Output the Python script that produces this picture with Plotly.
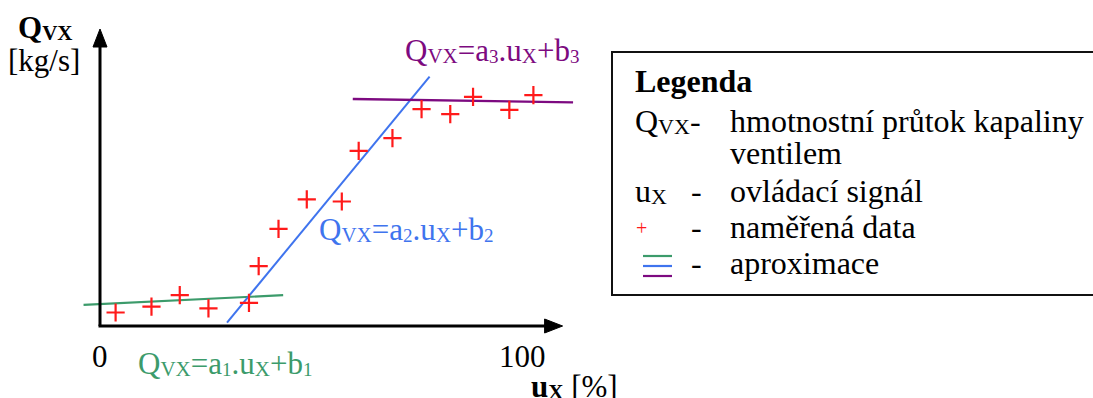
import plotly.graph_objects as go

# ---------------- data ----------------
u_measured = [3.7, 12.2, 18.9, 25.7, 35.3, 37.6, 42.3, 49.0, 57.3, 61.3, 69.3, 76.2, 83.0, 88.4, 97.0, 102.7]
q_measured = [3.2, 4.6, 7.3, 4.2, 5.5, 14.2, 23.0, 30.0, 29.5, 41.5, 44.5, 51.4, 50.2, 54.3, 51.2, 54.7]

fit1_u = [-3.9, 43.4]
fit1_q = [5.0, 7.3]
fit2_u = [30.1, 78.1]
fit2_q = [0.8, 59.1]
fit3_u = [59.9, 112.1]
fit3_q = [53.8, 53.0]

tick_values = [0, 100]
tick_labels = ["0", "100"]

# ---------------- styling ----------------
W, H = 1093, 398
FONT = "Liberation Serif"
GREEN = "#3c9b6b"
BLUE = "#3f74ee"
PURPLE = "#7d0a80"
RED = "#ff1a1a"
XR = [-100 / 4.22, (W - 100) / 4.22]
YR = [-(H - 326) / 4.22, 326 / 4.22]


def px(x):
    return x / W


def py(y):
    return 1 - y / H


def sub(s, size):
    return ('<span style="font-size:%dpx;baseline-shift:-2px">%s</span>' % (size, s))


def eq(i, size):
    return ("Q" + sub("VX", int(size * 0.68)) + "=a" + sub(str(i), int(size * 0.62)) + ".u"
            + sub("X", int(size * 0.68)) + "+b" + sub(str(i), int(size * 0.62)))


fig = go.Figure()

fig.add_trace(go.Scatter(x=fit1_u, y=fit1_q, mode="lines", line=dict(color=GREEN, width=2.2), hoverinfo="skip"))
fig.add_trace(go.Scatter(x=fit2_u, y=fit2_q, mode="lines", line=dict(color=BLUE, width=2), hoverinfo="skip"))
fig.add_trace(go.Scatter(x=fit3_u, y=fit3_q, mode="lines", line=dict(color=PURPLE, width=2.4), hoverinfo="skip"))
fig.add_trace(go.Scatter(x=u_measured, y=q_measured, mode="markers",
                         marker=dict(symbol="cross-thin", size=13, line=dict(color=RED, width=2.2), color=RED),
                         hoverinfo="skip"))

shapes = []
# axes
x_tip = (562.6 - 100) / 4.22
y_tip = (326 - 29) / 4.22
shapes.append(dict(type="line", xref="x", yref="y", x0=0, y0=0, x1=0, y1=y_tip - 3,
                   line=dict(color="black", width=3)))
shapes.append(dict(type="line", xref="x", yref="y", x0=-0.35, y0=0, x1=x_tip - 3, y1=0,
                   line=dict(color="black", width=3)))
shapes.append(dict(type="path", xref="x", yref="y", xsizemode="pixel", ysizemode="pixel",
                   xanchor=0, yanchor=y_tip, path="M -7,-18 L 7,-18 L 0,0 Z",
                   fillcolor="black", line=dict(color="black", width=1)))
shapes.append(dict(type="path", xref="x", yref="y", xsizemode="pixel", ysizemode="pixel",
                   xanchor=x_tip, yanchor=0, path="M -18,-7 L -18,7 L 0,0 Z",
                   fillcolor="black", line=dict(color="black", width=1)))
# legend box
shapes.append(dict(type="rect", xref="paper", yref="paper", x0=px(612), x1=px(1100), y0=py(295), y1=py(52),
                   line=dict(color="#111", width=2)))
for yy, c in [(256, GREEN), (266, BLUE), (276, PURPLE)]:
    shapes.append(dict(type="line", xref="paper", yref="paper", x0=px(643), x1=px(672), y0=py(yy), y1=py(yy),
                       line=dict(color=c, width=2.2)))

ann = []


def txt(x, y, text, size, color="black", xanchor="left", ref="paper"):
    d = dict(text=text, showarrow=False, font=dict(family=FONT, size=size, color=color),
             xanchor=xanchor, yanchor="middle", borderpad=0, borderwidth=0)
    if ref == "paper":
        d.update(xref="paper", yref="paper", x=px(x), y=py(y))
    else:
        d.update(xref="x", yref="y", x=x, y=y)
    ann.append(d)


S = 31
# axis titles
txt(18, 28, "<b>Q" + sub("VX", 21) + "</b>", S)
txt(8, 61, "[kg/s]", S)
txt(531, 386, "<b>u" + sub("X", 21) + "</b> [%]", S)
# tick labels
for v, lab in zip(tick_values, tick_labels):
    txt(v, (326 - 356) / 4.22, lab, S, xanchor="center", ref="data")
# equations
txt((405 - 100) / 4.22, (326 - 50) / 4.22, eq(3, S), S, PURPLE, ref="data")
txt((319 - 100) / 4.22, (326 - 229.5) / 4.22, eq(2, S), S, BLUE, ref="data")
txt((138 - 100) / 4.22, (326 - 363) / 4.22, eq(1, S), S, GREEN, ref="data")

# legend
L = 32
txt(635, 81, "<b>Legenda</b>", L)
txt(635, 121, "Q" + sub("VX", 22) + "-", L)
txt(730, 121, "hmotnostní průtok kapaliny", L)
txt(730, 153, "ventilem", L)
txt(635, 191, "u" + sub("X", 22), L)
txt(691, 191, "-", L)
txt(730, 191, "ovládací signál", L)
txt(641, 228, "+", 20, RED, xanchor="center")
txt(691, 226.5, "-", L)
txt(730, 226.5, "naměřená data", L)
txt(691, 262.5, "-", L)
txt(730, 262.5, "aproximace", L)

fig.update_layout(
    width=W, height=H, autosize=False,
    margin=dict(l=0, r=0, t=0, b=0),
    paper_bgcolor="white", plot_bgcolor="white",
    showlegend=False,
    xaxis=dict(range=XR, visible=False, fixedrange=True),
    yaxis=dict(range=YR, visible=False, fixedrange=True),
    shapes=shapes, annotations=ann,
)

fig.write_html("out.html", config={"displayModeBar": False})
